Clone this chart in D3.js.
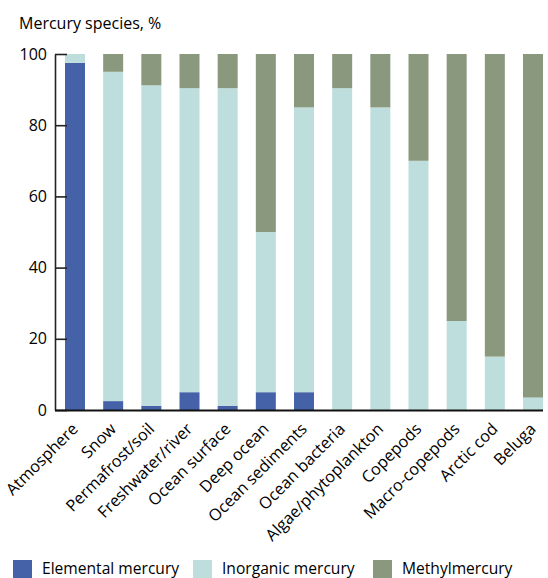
<!DOCTYPE html>
<html>
<head>
<meta charset="utf-8">
<script src="https://cdn.jsdelivr.net/npm/d3@7"></script>
<style>
  html, body { margin: 0; padding: 0; background: #fff; }
  svg { display: block; }
  text { font-family: "Open Sans", "Noto Sans", sans-serif; fill: #000; }
</style>
</head>
<body>
<svg id="chart" width="548" height="578"></svg>
<script>
const categories = ["Atmosphere", "Snow", "Permafrost/soil", "Freshwater/river", "Ocean surface",
  "Deep ocean", "Ocean sediments", "Ocean bacteria", "Algae/phytoplankton", "Copepods",
  "Macro-copepods", "Arctic cod", "Beluga"];
const seriesNames = ["Elemental mercury", "Inorganic mercury", "Methylmercury"];
const elemental = [97.5, 2.5, 1.2, 5, 1.2, 5, 5, 0, 0, 0, 0, 0, 0];
const inorganic = [2.5, 92.5, 90, 85.4, 89.2, 45, 80, 90.4, 85, 70, 25, 15, 3.5];
const methyl = [0, 5, 8.8, 9.6, 9.6, 50, 15, 9.6, 15, 30, 75, 85, 96.5];
const yTicks = [0, 20, 40, 60, 80, 100];
const colors = ["#4562a9", "#bddedd", "#8a987d"];

const FONT = '"Open Sans", "Noto Sans", sans-serif';
const svg = d3.select("#chart");

const rows = categories.map((c, i) => ({
  cat: c, "Elemental mercury": elemental[i], "Inorganic mercury": inorganic[i], "Methylmercury": methyl[i]
}));
const stacked = d3.stack().keys(seriesNames)(rows);

const x = d3.scaleBand().domain(categories).range([56, 552]).paddingInner(0.476).paddingOuter(0.236);
const y = d3.scaleLinear().domain([0, 100]).range([410, 54]);
const color = d3.scaleOrdinal().domain(seriesNames).range(colors);

// bars
svg.append("g").selectAll("g").data(stacked).join("g")
  .attr("fill", d => color(d.key))
  .selectAll("rect").data(d => d).join("rect")
  .attr("x", d => x(d.data.cat))
  .attr("width", x.bandwidth())
  .attr("y", d => y(d[1]))
  .attr("height", d => Math.max(0, y(d[0]) - y(d[1])));

// y axis
const yAxis = svg.append("g").attr("transform", "translate(55,0)")
  .call(d3.axisLeft(y).tickValues(yTicks).tickFormat(d3.format("d"))
    .tickSizeInner(-12).tickSizeOuter(0).tickPadding(8));
yAxis.select(".domain").attr("stroke", "#222").attr("stroke-width", 1.6);
yAxis.selectAll(".tick line").attr("stroke", "#222").attr("stroke-width", 1.6);
yAxis.selectAll(".tick text").style("font-size", "16px").style("font-family", FONT).attr("fill", "#000");

// x axis
const xAxis = svg.append("g").attr("transform", "translate(0,410)")
  .call(d3.axisBottom(x).tickSize(0).tickPadding(0));
xAxis.select(".domain").remove();
xAxis.append("line").attr("x1", 55).attr("x2", 543).attr("y1", 0.5).attr("y2", 0.5)
  .attr("stroke", "#111").attr("stroke-width", 2.2);
xAxis.selectAll(".tick text")
  .style("font-size", "16.3px").style("font-family", FONT).attr("fill", "#000")
  .attr("text-anchor", "end")
  .attr("y", 0).attr("dy", 0)
  .attr("transform", "translate(4,20) rotate(-45)");

// title
svg.append("text").attr("x", 19).attr("y", 29).style("font-size", "16px").text("Mercury species, %");

// legend
const legendX = [13, 193, 373];
const lg = svg.append("g").selectAll("g").data(seriesNames).join("g")
  .attr("transform", (d, i) => `translate(${legendX[i]},560)`);
lg.append("rect").attr("width", 19).attr("height", 18).attr("fill", d => color(d));
lg.append("text").attr("x", 29).attr("y", 13.5).style("font-size", "15.6px").text(d => d);
</script>
</body>
</html>
